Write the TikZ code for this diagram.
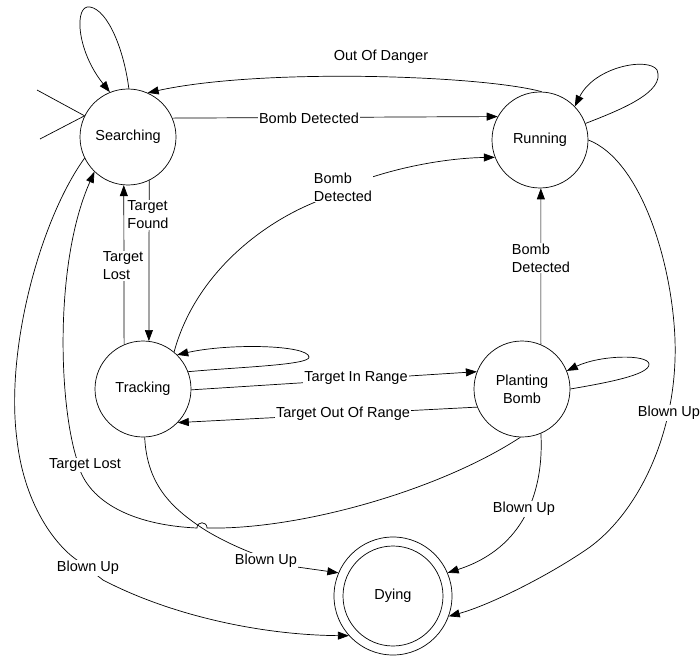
\documentclass[tikz,border=0pt]{standalone}
\usepackage{fontspec}
\setmainfont{Liberation Sans}
\usetikzlibrary{arrows.meta}
\newcommand\edgetextfont{\fontsize{14.5}{18}\selectfont}
\begin{document}
\begin{tikzpicture}[x=1pt,y=-1pt,
  state/.style={circle,draw,line width=0.7pt,minimum size=96pt,inner sep=0pt,align=center,font=\edgetextfont},
  edge/.style={line width=0.7pt,-{Triangle[length=11pt,width=8pt]}},
  plain/.style={line width=0.7pt},
  lab/.style={fill=white,inner sep=1pt,align=left,font=\edgetextfont}]
\useasboundingbox (0,0) rectangle (700,655);

% states
\node[state] (s) at (128,137) {Searching};
\node[state] (r) at (540,140) {Running};
\node[state] (t) at (143,389) {Tracking};
\node[state] (p) at (522,389) {Planting\\Bomb};
\node[state,minimum size=118pt] (d) at (393,596) {};
\node[state,minimum size=100pt] (din) at (393,596) {Dying};

% entry strokes
\coordinate (i1) at (37,90);
\coordinate (i2) at (40,139);
\draw[plain] (i1) -- (s.154);
\draw[plain] (i2) -- (s.154);

% self loops
\draw[edge] (s.89) .. controls (124,50) and (108,10) .. (90,7)
  .. controls (74,4) and (76,50) .. (s.112);
\draw[edge] (r.20) .. controls (620,110) and (666,92) .. (657,70)
  .. controls (649,57) and (595,66) .. (r.44);
\draw[edge] (t.21) .. controls (240,367) and (310,365) .. (309,357)
  .. controls (308,345) and (230,343) .. (t.45);
\draw[edge] (p.0) .. controls (605,383) and (650,375) .. (649,364)
  .. controls (648,354) and (600,355) .. (p.22);

% transitions
\draw[edge] (r.88) .. controls (480,75) and (260,68) .. (s.66.5);
\draw[edge] (s.23.4) -- (r.151.9);
\draw[edge] (t.50.6) .. controls (195,275) and (260,225) .. (313,203) -- (355,183)
  .. controls (400,166) and (450,158) .. (r.201.6);
\draw[edge] (s.-64) -- (t.83);
\draw[edge] (t.113) -- (s.-95);
\draw[edge] (t.-1) -- (p.159.3);
\draw[edge] (p.202.4) -- (t.-44);
\draw[edge] (p.67) -- (r.-89);
\draw[edge] (r.0) .. controls (640,160) and (672,260) .. (675,340)
  .. controls (678,430) and (640,510) .. (590,547)
  .. controls (550,575) and (490,605) .. (d.-20.9);
\draw[edge] (p.-67) .. controls (544,490) and (525,548) .. (d.23.6);
\draw[edge] (t.-88) .. controls (147,485) and (172,508) .. (202,528)
  .. controls (222,541) and (258,558) .. (297,567) -- (d.157.7);
\draw[edge] (s.-154) .. controls (40,220) and (5,350) .. (17,440)
  .. controls (25,510) and (60,550) .. (80,562) -- (103,580)
  .. controls (170,615) and (260,635) .. (d.222.4);
% target lost from planting, hopping over the tracking line
\draw[edge] (p.-92) .. controls (440,490) and (300,530) .. (207,528)
  .. controls (207,521) and (197,521) .. (197,528)
  .. controls (130,525) and (85,500) .. (77,460)
  .. controls (58,400) and (55,260) .. (s.-134);

% transition labels
\node[lab] (lod) at (381,57) {Out Of Danger};
\node[lab] (lbd1) at (309,118) {Bomb Detected};
\node[lab] (lbd2) at (343,187) {Bomb\\Detected};
\node[lab] (ltf) at (148,215) {Target\\Found};
\node[lab] (ltl) at (123,266) {Target\\Lost};
\node[lab] (lbd3) at (541,258) {Bomb\\Detected};
\node[lab] (lir) at (356,378) {Target In Range};
\node[lab] (lor) at (343,414) {Target Out Of Range};
\node[lab] (lbu1) at (669,413) {Blown Up};
\node[lab] (lbu2) at (524,509) {Blown Up};
\node[lab] (ltl2) at (85,465) {Target Lost};
\node[lab] (lbu3) at (266,561) {Blown Up};
\node[lab] (lbu4) at (88,568) {Blown Up};
\end{tikzpicture}
\end{document}
